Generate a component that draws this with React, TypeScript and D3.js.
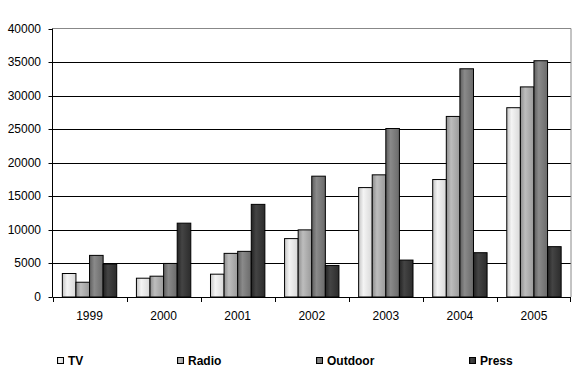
import React from "react";
import * as d3 from "d3";

const years = ["1999", "2000", "2001", "2002", "2003", "2004", "2005"];
const seriesNames = ["TV", "Radio", "Outdoor", "Press"];
const tv = [3500, 2800, 3400, 8700, 16300, 17500, 28200];
const radio = [2200, 3100, 6500, 10000, 18200, 26900, 31300];
const outdoor = [6200, 5000, 6800, 18000, 25100, 34000, 35200];
const press = [4900, 11000, 13800, 4700, 5500, 6600, 7500];
const yTicks = [0, 5000, 10000, 15000, 20000, 25000, 30000, 35000, 40000];

const seriesValues = [tv, radio, outdoor, press];
const gradients = [
  ["#c4c4c4", "#f4f4f4", "#d8d8d8"],
  ["#8c8c8c", "#bdbdbd", "#9a9a9a"],
  ["#5e5e5e", "#8a8a8a", "#6a6a6a"],
  ["#232323", "#444444", "#2c2c2c"],
];
const legendX = [57.5, 177.5, 316.5, 469.5];

export default function App() {
  const W = 582, H = 384;
  const left = 52.5, right = 571, top = 28.5, bottom = 297;
  const x0 = d3.scaleBand<string>().domain(years).range([left, right]).padding(0);
  const step = x0.step();
  const x1 = d3.scaleBand<string>().domain(seriesNames).range([step * 0.133, step * 0.867]).padding(0);
  const y = d3.scaleLinear().domain([0, 40000]).range([bottom, top]);
  const font = "'Liberation Sans', Arial, sans-serif";

  return (
    <svg width={W} height={H} style={{ position: "absolute", left: 0, top: 0, background: "#fff" }}>
      <defs>
        {gradients.map((g, i) => (
          <linearGradient key={i} id={`g${i}`} x1="0" x2="1" y1="0" y2="0">
            <stop offset="0%" stopColor={g[0]} />
            <stop offset="35%" stopColor={g[1]} />
            <stop offset="100%" stopColor={g[2]} />
          </linearGradient>
        ))}
      </defs>
      {/* gridlines */}
      {yTicks.filter((t) => t > 0 && t < 40000).map((t) => (
        <line key={t} x1={left} x2={right} y1={Math.round(y(t)) + 0.5} y2={Math.round(y(t)) + 0.5} stroke="#000" strokeWidth={1} />
      ))}
      {/* top & right border */}
      <line x1={left} x2={right} y1={top} y2={top} stroke="#888" />
      <line x1={right} x2={right} y1={top} y2={bottom} stroke="#888" />
      {/* bars */}
      {years.map((yr, i) => (
        <g key={yr} transform={`translate(${x0(yr)},0)`}>
          {seriesNames.map((s, j) => {
            const v = seriesValues[j][i];
            const yy = y(v);
            return (
              <rect key={s} x={(x1(s) as number)} y={yy} width={x1.bandwidth()} height={bottom - yy}
                fill={`url(#g${j})`} stroke="#000" strokeWidth={1} />
            );
          })}
        </g>
      ))}
      {/* axes */}
      <line x1={left} x2={left} y1={top} y2={bottom} stroke="#000" />
      <line x1={left} x2={right} y1={bottom + 0.5} y2={bottom + 0.5} stroke="#000" />
      {yTicks.map((t) => (
        <g key={t}>
          <line x1={left - 4} x2={left} y1={Math.round(y(t)) + 0.5} y2={Math.round(y(t)) + 0.5} stroke="#000" />
          <text x={41} y={y(t) + 4} textAnchor="end" fontFamily={font} fontSize={12} fill="#000">{t}</text>
        </g>
      ))}
      {years.map((yr) => (
        <g key={yr}>
          <line x1={Math.round(x0(yr) as number) + 0.5} x2={Math.round(x0(yr) as number) + 0.5} y1={bottom} y2={bottom + 5} stroke="#000" />
          <text x={(x0(yr) as number) + step / 2} y={320} textAnchor="middle" fontFamily={font} fontSize={12} fill="#000">{yr}</text>
        </g>
      ))}
      <line x1={right - 0.5} x2={right - 0.5} y1={bottom} y2={bottom + 5} stroke="#000" />
      {/* legend */}
      {seriesNames.map((s, j) => (
        <g key={s}>
          <rect x={legendX[j]} y={357.5} width={6} height={6} fill={`url(#g${j})`} stroke="#000" strokeWidth={1} />
          <text x={legendX[j] + 10.5} y={365} fontFamily={font} fontSize={12} fontWeight="bold" fill="#000">{s}</text>
        </g>
      ))}
    </svg>
  );
}
